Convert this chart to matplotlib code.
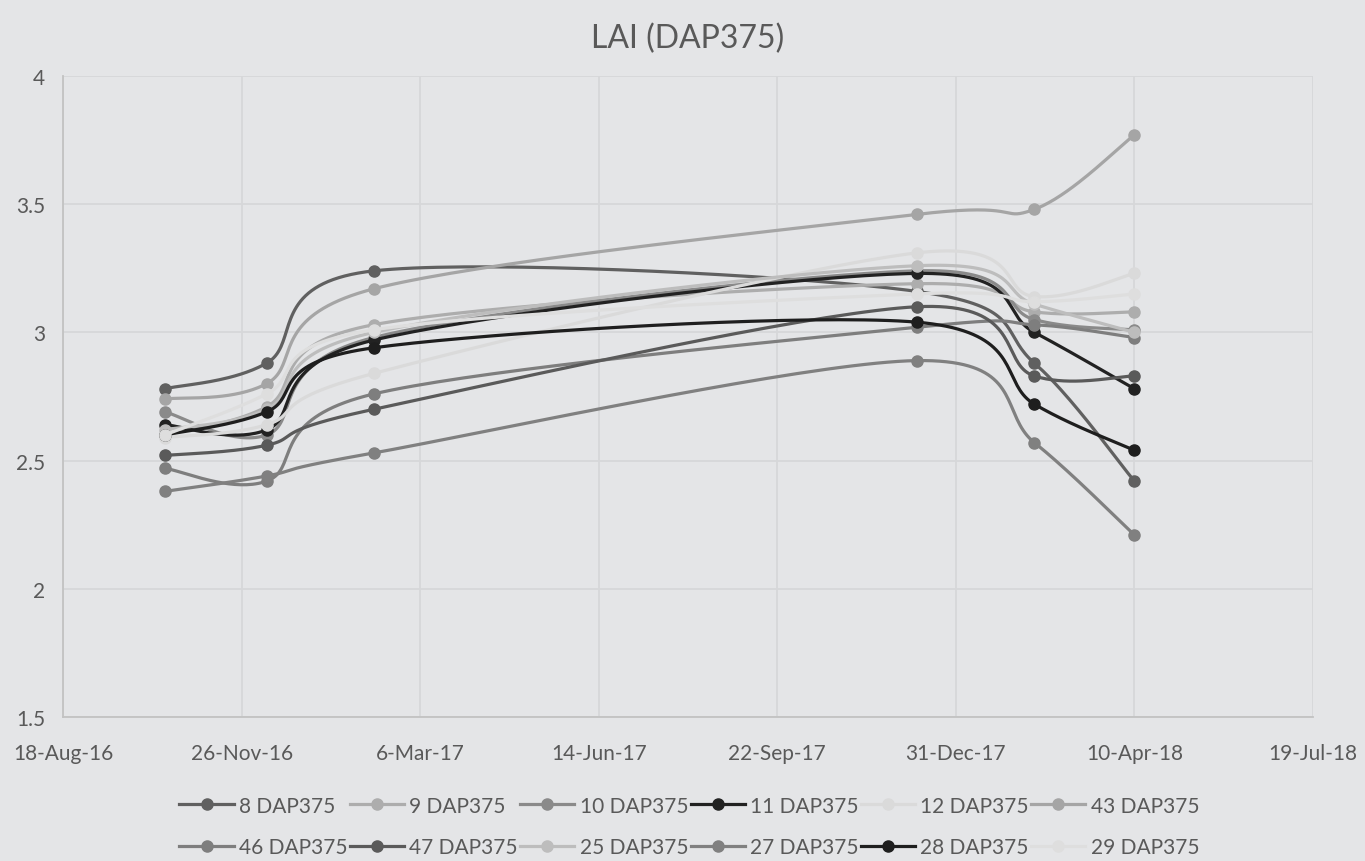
import matplotlib
matplotlib.use("Agg")
import matplotlib.pyplot as plt
import matplotlib.dates as mdates
import numpy as np
import pandas as pd

# sampling dates and LAI per plot
dates = ["2016-10-14", "2016-12-10", "2017-02-08", "2017-12-09", "2018-02-13", "2018-04-10"]

lai_8 = [2.78, 2.88, 3.24, 3.16, 2.88, 2.42]
lai_9 = [2.60, 2.71, 3.03, 3.19, 3.08, 3.08]
lai_10 = [2.69, 2.60, 2.98, 3.24, 3.05, 3.01]
lai_11 = [2.64, 2.62, 2.97, 3.23, 3.00, 2.78]
lai_12 = [2.59, 2.64, 2.84, 3.31, 3.14, 3.23]
lai_43 = [2.74, 2.80, 3.17, 3.46, 3.48, 3.77]
lai_46 = [2.47, 2.42, 2.76, 3.02, 3.03, 2.98]
lai_47 = [2.52, 2.56, 2.70, 3.10, 2.83, 2.83]
lai_25 = [2.62, 2.70, 3.00, 3.26, 3.11, 3.00]
lai_27 = [2.38, 2.44, 2.53, 2.89, 2.57, 2.21]
lai_28 = [2.60, 2.69, 2.94, 3.04, 2.72, 2.54]
lai_29 = [2.60, 2.76, 3.01, 3.15, 3.12, 3.15]

labels = ["8 DAP375", "9 DAP375", "10 DAP375", "11 DAP375", "12 DAP375", "43 DAP375",
          "46 DAP375", "47 DAP375", "25 DAP375", "27 DAP375", "28 DAP375", "29 DAP375"]
series = [lai_8, lai_9, lai_10, lai_11, lai_12, lai_43,
          lai_46, lai_47, lai_25, lai_27, lai_28, lai_29]
colors = ["#606060", "#ADADAD", "#8A8A8A", "#222222", "#DADADA", "#A5A5A5",
          "#7E7E7E", "#5A5A5A", "#BDBDBD", "#808080", "#1E1E1E", "#DEDEDE"]

BG = "#E4E5E7"
TXT = "#595959"


def smooth(x, y, n=40):
    # excel style smoothed line (catmull-rom through the points)
    x = np.asarray(x, float)
    y = np.asarray(y, float)
    px = np.concatenate([[x[0]], x, [x[-1]]])
    py = np.concatenate([[y[0]], y, [y[-1]]])
    t = np.linspace(0, 1, n)
    xs, ys = [], []
    for i in range(len(x) - 1):
        p0 = np.array([x[i], y[i]])
        p3 = np.array([x[i + 1], y[i + 1]])
        c1 = p0 + (np.array([px[i + 2], py[i + 2]]) - np.array([px[i], py[i]])) / 6
        c2 = p3 - (np.array([px[i + 3], py[i + 3]]) - np.array([px[i + 1], py[i + 1]])) / 6
        b = ((1 - t) ** 3)[:, None] * p0 + (3 * (1 - t) ** 2 * t)[:, None] * c1 \
            + (3 * (1 - t) * t ** 2)[:, None] * c2 + (t ** 3)[:, None] * p3
        xs.append(b[:, 0])
        ys.append(b[:, 1])
    return np.concatenate(xs), np.concatenate(ys)


plt.rcParams["font.family"] = ["Lato", "DejaVu Sans"]

fig = plt.figure(figsize=(13.65, 8.62), dpi=100, facecolor=BG)
ax = fig.add_axes([0.0462, 0.167, 0.9157, 0.7437], facecolor=BG)

xd = mdates.date2num(pd.to_datetime(dates))
handles = []
for vals, lab, col in zip(series, labels, colors):
    sx, sy = smooth(xd, vals)
    ax.plot(sx, sy, color=col, lw=2.3, solid_capstyle="round", zorder=3)
    ax.plot(xd, vals, "o", color=col, ms=8, zorder=3)
    h, = ax.plot([], [], color=col, lw=2.3, marker="o", ms=8, label=lab)
    handles.append(h)

x0 = mdates.date2num(pd.Timestamp("2016-08-18"))
ticks = x0 + np.arange(0, 701, 100)
ax.set_xlim(ticks[0], ticks[-1])
ax.set_xticks(ticks)
ax.set_xticklabels([f"{d.day}-{d.strftime('%b-%y')}" for d in mdates.num2date(ticks)])
ax.set_ylim(1.5, 4)
ax.set_yticks([1.5, 2, 2.5, 3, 3.5, 4])
ax.set_yticklabels(["1.5", "2", "2.5", "3", "3.5", "4"])

ax.grid(True, color="#D6D7D9", lw=1.3, zorder=0)
ax.set_axisbelow(True)
for s in ["top", "right"]:
    ax.spines[s].set_visible(False)
for s in ["left", "bottom"]:
    ax.spines[s].set_color("#C2C2C2")
    ax.spines[s].set_linewidth(1.3)
ax.tick_params(length=0, labelsize=15, colors=TXT)
ax.tick_params(axis="x", pad=19)
ax.tick_params(axis="y", pad=13)

ax.set_title("LAI (DAP375)", fontsize=23, color=TXT, pad=21)

# legend fills row by row: 6 per row
order = [0, 6, 1, 7, 2, 8, 3, 9, 4, 10, 5, 11]
fig.legend([handles[i] for i in order], [labels[i] for i in order],
           loc="center", bbox_to_anchor=(0.505, 0.040), ncol=6, frameon=False,
           fontsize=15, labelcolor=TXT, handlelength=2.6, handletextpad=0.25,
           columnspacing=0.12, labelspacing=1.05)

fig.savefig("out.png", dpi=100, facecolor=BG)
